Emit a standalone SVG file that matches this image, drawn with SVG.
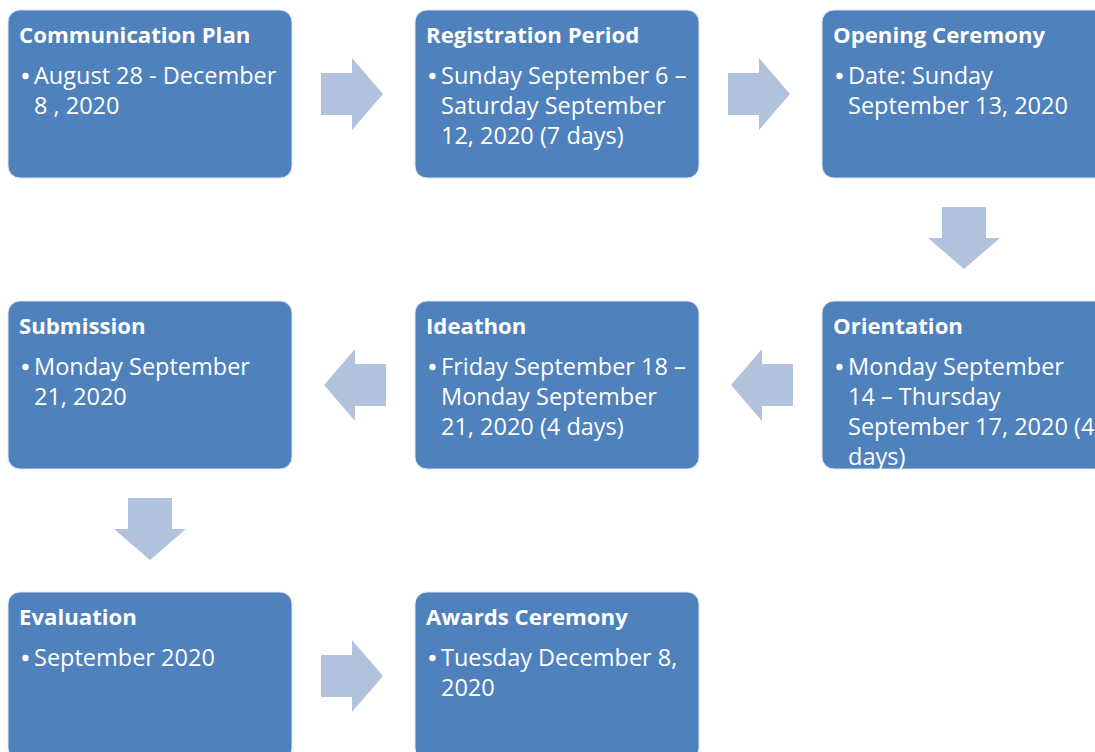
<svg xmlns="http://www.w3.org/2000/svg" width="1095" height="752" viewBox="0 0 1095 752">
<style>
.box{fill:#4F81BD;stroke:#DCE6F2;stroke-width:1}
.arr{fill:#B2C1DC}
.t{font-family:"Open Sans","Liberation Sans",sans-serif;font-weight:bold;font-size:22.2px;fill:#FFFFFF}
.b{font-family:"Open Sans","Liberation Sans",sans-serif;font-size:23.5px;fill:#FFFFFF}
.d{fill:#FFFFFF}
</style>
<rect width="1095" height="752" fill="#FFFFFF"/>
<g id="connectors">
<polygon class="arr" points="321,73 352,73 352,58 383,94 352,130 352,115 321,115"/>
<polygon class="arr" points="728,73 759,73 759,58 790,94 759,130 759,115 728,115"/>
<polygon class="arr" points="942,207 986,207 986,238 1000,238 964,269 928,238 942,238"/>
<polygon class="arr" points="793,364 762,364 762,349 731,385 762,421 762,406 793,406"/>
<polygon class="arr" points="386,364 355,364 355,349 324,385 355,421 355,406 386,406"/>
<polygon class="arr" points="128,498 172,498 172,529 186,529 150,560 114,529 128,529"/>
<polygon class="arr" points="321,655 352,655 352,640 383,676 352,712 352,697 321,697"/>
</g>
<g id="n1">
<rect class="box" x="8" y="10" width="284" height="168" rx="12"/>
<text class="t" x="19" y="43">Communication Plan</text>
<circle class="d" cx="25.5" cy="76" r="3.2"/>
<text class="b" x="34" y="83.5">August 28 - December</text>
<text class="b" x="34" y="113.5">8 , 2020</text>
</g>
<g id="n2">
<rect class="box" x="415" y="10" width="284" height="168" rx="12"/>
<text class="t" x="426" y="43">Registration Period</text>
<circle class="d" cx="432.5" cy="76" r="3.2"/>
<text class="b" x="441" y="83.5">Sunday September 6 –</text>
<text class="b" x="441" y="113.5">Saturday September</text>
<text class="b" x="441" y="143.5">12, 2020 (7 days)</text>
</g>
<g id="n3">
<rect class="box" x="822" y="10" width="284" height="168" rx="12"/>
<text class="t" x="833" y="43">Opening Ceremony</text>
<circle class="d" cx="839.5" cy="76" r="3.2"/>
<text class="b" x="848" y="83.5">Date: Sunday</text>
<text class="b" x="848" y="113.5">September 13, 2020</text>
</g>
<g id="n4">
<rect class="box" x="822" y="301" width="284" height="168" rx="12"/>
<text class="t" x="833" y="334">Orientation</text>
<circle class="d" cx="839.5" cy="367" r="3.2"/>
<text class="b" x="848" y="374.5">Monday September</text>
<text class="b" x="848" y="404.5">14 – Thursday</text>
<text class="b" x="848" y="434.5">September 17, 2020 (4</text>
<text class="b" x="848" y="464.5">days)</text>
</g>
<g id="n5">
<rect class="box" x="415" y="301" width="284" height="168" rx="12"/>
<text class="t" x="426" y="334">Ideathon</text>
<circle class="d" cx="432.5" cy="367" r="3.2"/>
<text class="b" x="441" y="374.5">Friday September 18 –</text>
<text class="b" x="441" y="404.5">Monday September</text>
<text class="b" x="441" y="434.5">21, 2020 (4 days)</text>
</g>
<g id="n6">
<rect class="box" x="8" y="301" width="284" height="168" rx="12"/>
<text class="t" x="19" y="334">Submission</text>
<circle class="d" cx="25.5" cy="367" r="3.2"/>
<text class="b" x="34" y="374.5">Monday September</text>
<text class="b" x="34" y="404.5">21, 2020</text>
</g>
<g id="n7">
<rect class="box" x="8" y="592" width="284" height="168" rx="12"/>
<text class="t" x="19" y="625">Evaluation</text>
<circle class="d" cx="25.5" cy="658" r="3.2"/>
<text class="b" x="34" y="665.5">September 2020</text>
</g>
<g id="n8">
<rect class="box" x="415" y="592" width="284" height="168" rx="12"/>
<text class="t" x="426" y="625">Awards Ceremony</text>
<circle class="d" cx="432.5" cy="658" r="3.2"/>
<text class="b" x="441" y="665.5">Tuesday December 8,</text>
<text class="b" x="441" y="695.5">2020</text>
</g>
</svg>
